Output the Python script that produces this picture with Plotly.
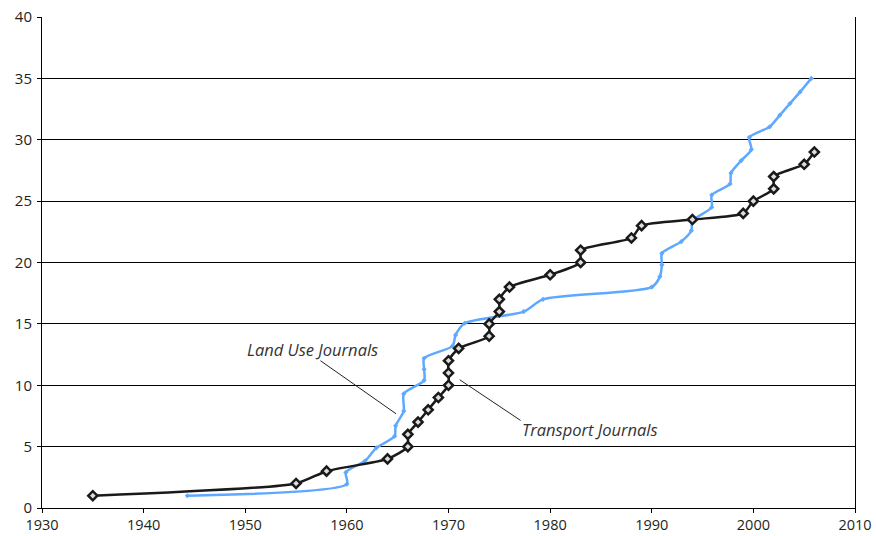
import plotly.graph_objects as go

# Transport Journals (black)
transport_year = [1935, 1955, 1958, 1964, 1966, 1966, 1967, 1968, 1969, 1970, 1970, 1970,
                  1971, 1974, 1974, 1975, 1975, 1976, 1980, 1983, 1983, 1988, 1989, 1994,
                  1999, 2000, 2002, 2002, 2005, 2006]
transport_count = [1, 2, 3, 4, 5, 6, 7, 8, 9, 10, 11, 12,
                   13, 14, 15, 16, 17, 18, 19, 20, 21, 22, 23, 23.5,
                   24, 25, 26, 27, 28, 29]

# Land Use Journals (blue)
landuse_year = [1944.3, 1960.0, 1959.9, 1961.8, 1962.9, 1964.7, 1964.8, 1965.6, 1965.6,
                1967.6, 1967.6, 1967.6, 1970.4, 1970.7, 1971.6, 1977.4, 1979.3, 1990.0,
                1990.8, 1991.0, 1991.0, 1992.9, 1993.9, 1994.0, 1995.9, 1995.9, 1997.7,
                1997.8, 1998.8, 1999.8, 1999.6, 2001.6, 2002.6, 2003.6, 2004.6, 2005.7]
landuse_count = [1.0, 1.95, 2.9, 3.85, 4.9, 5.85, 6.7, 7.9, 9.3,
                 10.4, 11.3, 12.2, 13.2, 14.1, 15.05, 16.0, 17.0, 18.0,
                 18.85, 19.8, 20.75, 21.7, 22.6, 23.4, 24.5, 25.5, 26.4,
                 27.3, 28.3, 29.2, 30.2, 31.05, 32.0, 32.95, 33.9, 35.0]

x_ticks = [1930, 1940, 1950, 1960, 1970, 1980, 1990, 2000, 2010]
y_ticks = [0, 5, 10, 15, 20, 25, 30, 35, 40]

FONT = "Open Sans"
BLUE = "#5ea9ff"
BLACK = "#1a1a1a"

fig = go.Figure()
fig.add_trace(go.Scatter(
    x=landuse_year, y=landuse_count, mode="lines+markers",
    line=dict(color=BLUE, width=2.5, shape="spline", smoothing=0.7),
    marker=dict(symbol="diamond", size=4, color=BLUE),
    name="Land Use Journals", showlegend=False))
fig.add_trace(go.Scatter(
    x=transport_year, y=transport_count, mode="lines+markers",
    line=dict(color=BLACK, width=2.5, shape="spline", smoothing=0.6),
    marker=dict(symbol="diamond", size=7, color="#dddddd", line=dict(color=BLACK, width=2.5)),
    name="Transport Journals", showlegend=False))

# leader lines
fig.add_shape(type="line", x0=1957.4, y0=12.0, x1=1964.85, y1=7.67,
              line=dict(color="#222", width=1))
fig.add_shape(type="line", x0=1971.1, y0=10.45, x1=1977.1, y1=7.13,
              line=dict(color="#222", width=1))

fig.add_annotation(x=1956.6, y=12.88, text="<i>Land Use Journals</i>", showarrow=False,
                   font=dict(family=FONT, size=16.5, color="#333"), xanchor="center", yanchor="middle")
fig.add_annotation(x=1983.96, y=6.43, text="<i>Transport Journals</i>", showarrow=False,
                   font=dict(family=FONT, size=16.5, color="#333"), xanchor="center", yanchor="middle")

fig.update_layout(
    width=876, height=536,
    margin=dict(l=42, r=21, t=17, b=28, autoexpand=False),
    paper_bgcolor="white", plot_bgcolor="white",
    font=dict(family=FONT, size=14.5, color="#231f20"),
    xaxis=dict(range=[1930, 2010], tickvals=x_ticks, ticktext=[str(v) for v in x_ticks],
               showgrid=False, zeroline=False, showline=True, linecolor="black", linewidth=1,
               ticks="outside", ticklen=4, tickcolor="black", tickwidth=1,
               tickfont=dict(size=14.5)),
    yaxis=dict(range=[0, 40], tickvals=y_ticks, ticktext=[str(v) for v in y_ticks],
               showgrid=True, gridcolor="black", gridwidth=1, zeroline=False,
               showline=True, linecolor="black", linewidth=1, mirror=True,
               ticks="outside", ticklen=4, tickcolor="black", tickwidth=1, ticklabelstandoff=2,
               tickfont=dict(size=15)),
)

fig.write_html("out.html", config={"displayModeBar": False},
               post_script="document.body.style.margin='0';document.body.style.overflow='hidden';")
